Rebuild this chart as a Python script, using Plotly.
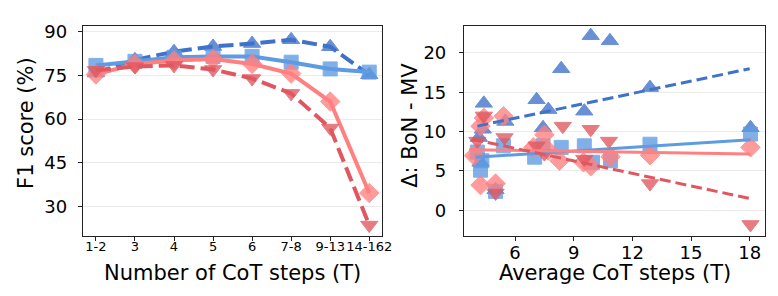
import plotly.graph_objects as go
from plotly.subplots import make_subplots

# ---- Left panel data ----
categories = ["1-2", "3", "4", "5", "6", "7-8", "9-13", "14-162"]
f1_blue_tri = [75.8, 80.3, 83.1, 84.9, 85.9, 87.2, 84.8, 75.2]
f1_blue_sq = [78.4, 79.8, 81.2, 81.5, 81.5, 79.5, 77.2, 76.1]
f1_red_dia = [75.3, 78.9, 80.1, 80.6, 78.9, 75.6, 66.0, 34.6]
f1_red_tri = [76.7, 78.0, 78.4, 77.0, 73.9, 68.8, 56.9, 23.6]
left_yticks = [30, 45, 60, 75, 90]

# ---- Right panel data ----
bt_x = [4.15, 4.23, 4.35, 4.40, 5.0, 5.5, 7.1, 7.43, 7.7, 8.36, 9.54, 9.87, 10.85, 12.9, 18.04]
bt_y = [9.25, 6.1, 10.3, 13.6, 2.6, 11.3, 14.05, 10.5, 12.8, 18.0, 12.6, 22.2, 21.55, 15.6, 10.5]
bs_x = [4.07, 4.23, 4.3, 5.0, 5.4, 7.0, 7.43, 8.36, 9.54, 9.96, 10.88, 12.9, 18.04]
bs_y = [7.4, 5.1, 6.3, 2.4, 8.2, 6.75, 8.2, 8.0, 8.2, 6.1, 6.3, 8.4, 9.7]
rd_x = [3.9, 4.23, 4.23, 4.4, 5.0, 5.41, 6.93, 7.5, 7.7, 8.27, 9.5, 9.87, 10.88, 12.9, 18.04]
rd_y = [6.95, 3.2, 10.7, 11.75, 3.4, 11.96, 8.0, 9.6, 7.6, 6.3, 6.1, 5.6, 6.8, 7.0, 8.0]
rt_x = [4.07, 4.4, 5.0, 5.46, 7.1, 7.5, 8.44, 9.54, 9.87, 10.8, 12.9, 18.04]
rt_y = [8.8, 12.0, 2.2, 9.25, 8.2, 7.2, 10.7, 6.5, 10.3, 8.8, 3.4, -1.8]

trend_bt_x = [4.07, 18.0]
trend_bt_y = [10.7, 18.0]
trend_bs_x = [3.98, 18.04]
trend_bs_y = [6.75, 8.96]
trend_rd_x = [3.65, 18.04]
trend_rd_y = [7.7, 7.17]
trend_rt_x = [3.8, 18.0]
trend_rt_y = [9.05, 1.5]
right_xticks = [6, 9, 12, 15, 18]
right_yticks = [0, 5, 10, 15, 20]

BLUE_D = "#3F72C9"
BLUE_L = "#5E9BE3"
RED_L = "#FF8080"
RED_D = "#E0575F"

fig = make_subplots(rows=1, cols=2)

def mk(color, symbol, size):
    return dict(color=color, symbol=symbol, size=size, opacity=0.78,
                line=dict(color=color, width=1))

SZ = {"triangle-up": 15, "triangle-down": 15, "square": 14, "diamond": 15}

# left panel
fig.add_trace(go.Scatter(x=categories, y=f1_blue_tri, mode="lines+markers",
                         line=dict(color=BLUE_D, width=4, dash="15px,6px"),
                         marker=mk(BLUE_D, "triangle-up", SZ["triangle-up"])), row=1, col=1)
fig.add_trace(go.Scatter(x=categories, y=f1_blue_sq, mode="lines+markers",
                         line=dict(color=BLUE_L, width=4),
                         marker=mk(BLUE_L, "square", SZ["square"])), row=1, col=1)
fig.add_trace(go.Scatter(x=categories, y=f1_red_dia, mode="lines+markers",
                         line=dict(color=RED_L, width=4),
                         marker=mk(RED_L, "diamond", SZ["diamond"])), row=1, col=1)
fig.add_trace(go.Scatter(x=categories, y=f1_red_tri, mode="lines+markers",
                         line=dict(color=RED_D, width=4, dash="15px,6px"),
                         marker=mk(RED_D, "triangle-down", SZ["triangle-down"])), row=1, col=1)

# right panel scatter
fig.add_trace(go.Scatter(x=bt_x, y=bt_y, mode="markers", marker=mk(BLUE_D, "triangle-up", SZ["triangle-up"])), row=1, col=2)
fig.add_trace(go.Scatter(x=bs_x, y=bs_y, mode="markers", marker=mk(BLUE_L, "square", SZ["square"])), row=1, col=2)
fig.add_trace(go.Scatter(x=rd_x, y=rd_y, mode="markers", marker=mk(RED_L, "diamond", SZ["diamond"])), row=1, col=2)
fig.add_trace(go.Scatter(x=rt_x, y=rt_y, mode="markers", marker=mk(RED_D, "triangle-down", SZ["triangle-down"])), row=1, col=2)
# trend lines
fig.add_trace(go.Scatter(x=trend_bt_x, y=trend_bt_y, mode="lines",
                         line=dict(color=BLUE_D, width=3, dash="11px,5px")), row=1, col=2)
fig.add_trace(go.Scatter(x=trend_bs_x, y=trend_bs_y, mode="lines",
                         line=dict(color=BLUE_L, width=3)), row=1, col=2)
fig.add_trace(go.Scatter(x=trend_rd_x, y=trend_rd_y, mode="lines",
                         line=dict(color=RED_L, width=3)), row=1, col=2)
fig.add_trace(go.Scatter(x=trend_rt_x, y=trend_rt_y, mode="lines",
                         line=dict(color=RED_D, width=3, dash="11px,5px")), row=1, col=2)

W, H = 778, 296
ax_common = dict(showline=True, linecolor="#222", linewidth=1.3, mirror=True,
                 ticks="outside", ticklen=4, tickcolor="#222", zeroline=False)

def px_x(p):
    return p / W

def px_y(p):
    return (H - p) / H

fig.update_layout(
    width=W, height=H, showlegend=False,
    margin=dict(l=0, r=0, t=0, b=0),
    paper_bgcolor="white", plot_bgcolor="white",
    font=dict(family="DejaVu Sans", color="black"),
    xaxis=dict(domain=[px_x(76), px_x(379)], range=[-0.33, 7.33], showgrid=False,
               tickfont=dict(size=13), tickangle=0, ticklabelstandoff=-6, **ax_common),
    yaxis=dict(domain=[px_y(227), px_y(13)], range=[19.8, 92],
               tickvals=left_yticks, tickfont=dict(size=18), ticklabelstandoff=7,
               showgrid=True, gridcolor="#EBEBEB", gridwidth=1, **ax_common),
    xaxis2=dict(domain=[px_x(462), px_x(767)], range=[3.39, 18.79], tickvals=right_xticks,
                showgrid=False, tickfont=dict(size=18), tickangle=0, ticklabelstandoff=-4,
                **ax_common),
    yaxis2=dict(domain=[px_y(227), px_y(13)], range=[-3.29, 23.46],
                tickvals=right_yticks, tickfont=dict(size=18), ticklabelstandoff=9,
                showgrid=True, gridcolor="#EBEBEB", gridwidth=1, **ax_common),
    annotations=[
        dict(text="Number of CoT steps (T)", xref="paper", yref="paper",
             x=px_x(227.5), y=px_y(264), xanchor="center", yanchor="middle",
             showarrow=False, font=dict(size=21)),
        dict(text="Average CoT steps (T)", xref="paper", yref="paper",
             x=px_x(614.5), y=px_y(264), xanchor="center", yanchor="middle",
             showarrow=False, font=dict(size=21)),
        dict(text="F1 score (%)", xref="paper", yref="paper", textangle=-90,
             x=px_x(18), y=px_y(112), xanchor="center", yanchor="middle",
             showarrow=False, font=dict(size=21)),
        dict(text="Δ: BoN - MV", xref="paper", yref="paper", textangle=-90,
             x=px_x(407), y=px_y(114), xanchor="center", yanchor="middle",
             showarrow=False, font=dict(size=21)),
    ],
)

fig.write_html("out.html")
